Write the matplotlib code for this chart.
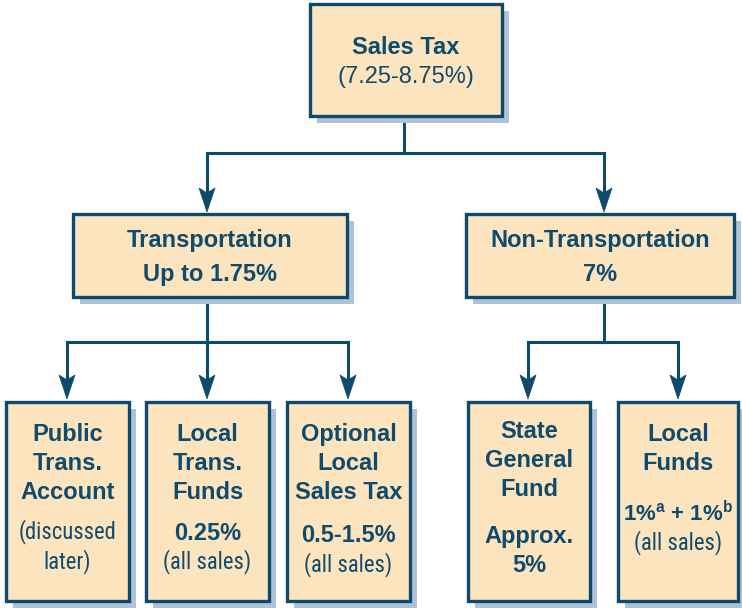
import matplotlib
matplotlib.use("Agg")
import matplotlib.pyplot as plt
from matplotlib.patches import Rectangle, Polygon
from matplotlib import font_manager
from matplotlib.font_manager import FontProperties

# box labels: (text, bold) per line
top_lines = [("Sales Tax", True), ("(7.25-8.75%)", False)]
mid_labels = [
    [("Transportation", True), ("Up to 1.75%", True)],
    [("Non-Transportation", True), ("7%", True)],
]
bottom_labels = [
    [("Public", True), ("Trans.", True), ("Account", True), ("(discussed", False), ("later)", False)],
    [("Local", True), ("Trans.", True), ("Funds", True), ("0.25%", True), ("(all sales)", False)],
    [("Optional", True), ("Local", True), ("Sales Tax", True), ("0.5-1.5%", True), ("(all sales)", False)],
    [("State", True), ("General", True), ("Fund", True), ("Approx.", True), ("5%", True)],
    [("Local", True), ("Funds", True), (r"1%$^{\mathrm{a}}$ + 1%$^{\mathrm{b}}$", True), ("(all sales)", False)],
]

# layout in pixels (x0, y0, x1, y1) and y centres of text lines
top_box = (310, 4, 502, 116)
top_y = [46, 75]
mid_boxes = [(73, 214, 347, 297), (466, 214, 734, 297)]
mid_y = [239, 273]
bottom_boxes = [(6, 402, 129, 601), (146, 402, 269, 601), (287, 402, 410, 601),
                (468, 402, 590, 601), (618, 402, 738, 601)]
bottom_y = [
    [433, 462, 491, 530, 560],
    [433, 462, 491, 532, 560],
    [433, 462, 491, 534, 563],
    [430, 459, 488, 535, 564],
    [433, 462, 512, 541],
]

FILL = "#FCE4BF"
EDGE = "#0E4A6B"
SHADOW = "#B0C3D6"
TEXT = "#0F4B6D"

# look for a narrow regular sans for the small parenthetical notes
pref = ["Liberation Sans Narrow", "Arial Narrow", "Roboto Condensed", "Noto Sans",
        "Open Sans", "DejaVu Sans", "Liberation Sans"]
cands = []
for f in font_manager.fontManager.ttflist:
    cond = f.stretch in ("condensed", "semi-condensed", "extra-condensed") or \
        "Narrow" in f.name or "Condensed" in f.name
    if cond and f.weight in (400, "normal", "regular", "book") and f.style == "normal":
        rank = next((i for i, p in enumerate(pref) if f.name.startswith(p)), 99)
        cands.append((rank, f.fname, f.name))
cands.sort()
if cands:
    narrow = FontProperties(fname=cands[0][1])
    nname = cands[0][2]
    narrow_size = 17 if ("Narrow" in nname or "Liberation" in nname) else 16.3
else:
    narrow = FontProperties(family="Liberation Sans")
    narrow_size = 14.5

plt.rcParams["mathtext.fontset"] = "custom"
plt.rcParams["mathtext.rm"] = "Liberation Sans:bold"
plt.rcParams["mathtext.bf"] = "Liberation Sans:bold"

W, H = 742, 608
fig = plt.figure(figsize=(W / 100, H / 100), dpi=100)
ax = fig.add_axes([0, 0, 1, 1])
ax.set_xlim(0, W)
ax.set_ylim(H, 0)
ax.axis("off")


def draw_box(box, lines, ys, is_top=False):
    x0, y0, x1, y1 = box
    ax.add_patch(Rectangle((x0 + 7, y0 + 7), x1 - x0, y1 - y0, facecolor=SHADOW,
                           edgecolor="none", zorder=1))
    ax.add_patch(Rectangle((x0, y0), x1 - x0, y1 - y0, facecolor=FILL,
                           edgecolor=EDGE, linewidth=2.4, zorder=2))
    cx = (x0 + x1) / 2
    for (txt, bold), y in zip(lines, ys):
        y = y + 1.5
        if bold:
            size = 16 if "$" in txt else 17
            ax.text(cx, y, txt, ha="center", va="center", fontsize=size,
                    fontweight="bold", family="Liberation Sans", color=TEXT, zorder=3)
        elif is_top:
            ax.text(cx, y, txt, ha="center", va="center", fontsize=17,
                    family="Liberation Sans", color=TEXT, zorder=3)
        else:
            fp = narrow.copy()
            fp.set_size(narrow_size)
            ax.text(cx, y, txt, ha="center", va="center", fontproperties=fp,
                    color=TEXT, zorder=3)


def line(xs, ys):
    ax.plot(xs, ys, color=EDGE, lw=2.2, solid_capstyle="projecting", zorder=1)


def arrow(x, y0, tip):
    # stem plus a notched head
    ax.plot([x, x], [y0, tip - 12], color=EDGE, lw=2.2, zorder=1)
    ax.add_patch(Polygon([(x - 8, tip - 24), (x, tip - 19), (x + 8, tip - 24), (x, tip)],
                         closed=True, facecolor=EDGE, edgecolor=EDGE, lw=0.5, zorder=1))


# connectors
line([404, 404], [116, 153])
line([207, 604], [153, 153])
arrow(207, 153, 212)
arrow(604, 153, 212)

line([207, 207], [297, 342])
line([67, 348], [342, 342])
for x in (67, 207, 348):
    arrow(x, 342, 399)
line([604, 604], [297, 342])
line([528, 678], [342, 342])
for x in (528, 678):
    arrow(x, 342, 399)

draw_box(top_box, top_lines, top_y, is_top=True)
for b, lab in zip(mid_boxes, mid_labels):
    draw_box(b, lab, mid_y)
for b, lab, ys in zip(bottom_boxes, bottom_labels, bottom_y):
    draw_box(b, lab, ys)

fig.savefig("out.png", dpi=100, facecolor="white")
